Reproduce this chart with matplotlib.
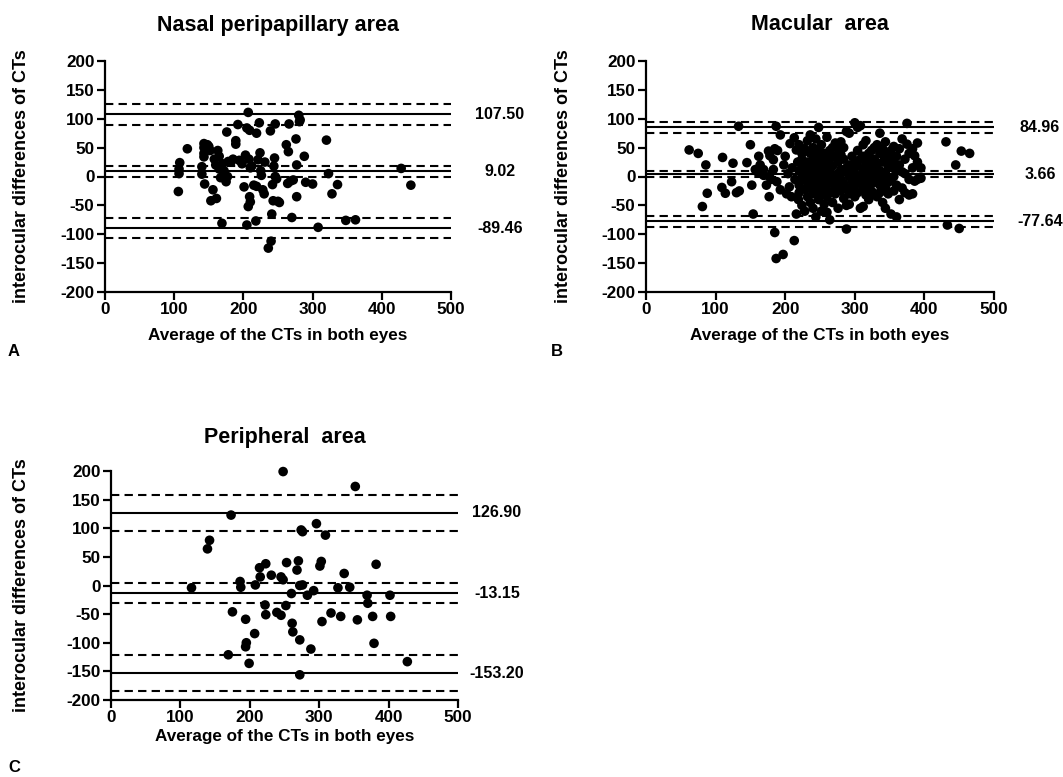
import numpy as np
import matplotlib
matplotlib.use("Agg")
import matplotlib.pyplot as plt

plt.rcParams['font.family'] = ['Liberation Sans', 'DejaVu Sans']
plt.rcParams['font.weight'] = 'bold'
plt.rcParams['axes.unicode_minus'] = False

# ---- data (average CT, interocular difference) ----
nasal_pts = [
    (106, -26), (107, 5), (107, 13), (108, 24), (119, 48),
    (140, 4), (140, 17), (143, 34), (143, 40), (143, 50), (143, 57), (144, -13),
    (148, 55), (150, 52), (152, 45), (153, -42), (156, -23), (161, -38),
    (158, 30), (160, 20), (163, 45), (165, 35), (165, 13),
    (167, -2), (169, -81), (170, 22), (172, 10), (175, -9), (176, 77), (177, 0), (178, 26),
    (182, 25), (185, 30), (189, 62), (189, 56), (192, 90), (194, 28), (198, 22),
    (201, -18), (203, 37), (205, 84), (207, 111), (207, -52), (209, 80), (209, -35),
    (210, -44), (205, -84), (208, 30), (210, 15),
    (212, 18), (215, -15), (218, -77), (219, 75), (219, -17), (221, 29), (223, 93),
    (224, 41), (225, 10), (226, 2), (228, -23), (230, -30), (231, 25),
    (236, -124), (239, 79), (240, -112), (241, -65), (242, -14), (243, -42), (244, 18),
    (245, 32), (246, 91), (248, -4), (250, -43), (252, -45), (246, 0),
    (262, 55), (265, 43), (266, 91), (264, -12), (268, -8), (270, -71), (272, -6),
    (276, 65), (277, -35), (277, 20), (280, 106), (281, 95), (282, 98),
    (288, 35), (290, -10), (300, -13), (308, -88), (320, 63), (323, 5), (328, -30),
    (336, -14), (348, -76), (362, -75), (428, 14), (442, -15),
]

macular_pts = [
    (62, 46), (75, 40), (86, 20), (81, -52), (88, -29), (110, 33), (109, -19), (114, -29),
    (123, -9), (125, 23), (130, -28), (133, 87), (134, -25), (145, 24), (150, 55),
    (152, -15), (154, -65), (157, 12), (160, 8), (162, 35), (164, 20), (169, 12), (169, 2),
    (173, -15), (176, 44), (177, -35), (177, 0), (178, 36), (180, -5), (183, 29), (183, 12),
    (185, 48), (185, -97), (187, 87), (187, -142), (188, -9), (189, 45), (193, 72),
    (193, -23), (197, -135), (198, 20), (200, 35), (202, -30), (204, 5), (206, -18),
    (207, 57), (209, -35), (210, 15), (213, 67), (213, -111), (214, -5), (216, 46),
    (216, -65), (218, 25), (219, -40),
    (220, 10), (220, -15), (220, 55), (220, -28),
    (224, 30), (224, -5), (224, 5), (224, -50), (224, 40),
    (228, 18), (228, -22), (228, 48), (228, 0), (228, -60),
    (232, 62), (232, 8), (232, -35), (232, 25), (232, -10),
    (236, 40), (236, -45), (236, 15), (236, -20), (236, 72), (236, -3),
    (240, 50), (240, -8), (240, 28), (240, -55), (240, 5), (240, -30),
    (244, 20), (244, -25), (244, 65), (244, -12), (244, 35), (244, -70),
    (248, 85), (248, 0), (248, -40), (248, 45), (248, 10), (248, -18),
    (252, 30), (252, -60), (252, -5), (252, 55), (252, 15), (252, -30),
    (256, 8), (256, -22), (256, 40), (256, -48), (256, -8), (256, 22),
    (260, 68), (260, -35), (260, -15), (260, 0), (260, 25), (260, -62),
    (264, 45), (264, -5), (264, 12), (264, -28), (264, -75), (264, 30),
    (268, 50), (268, -45), (268, 18), (268, -10), (268, 3),
    (272, 58), (272, -20), (272, 35), (272, -2), (272, -30),
    (276, 48), (276, 5), (276, -15), (276, 25), (276, -55),
    (280, 60), (280, 12), (280, -25), (280, 38), (280, -5),
    (284, 30), (284, -38), (284, 50), (284, -12), (284, 8),
    (288, 78), (288, -50), (288, 15), (288, -20), (288, -91),
    (292, 0), (292, 20), (292, -30), (292, 75), (292, -48),
    (296, 35), (296, -8), (296, 10), (296, -22),
    (300, 93), (300, 25), (300, -15), (300, 5), (300, -35),
    (304, 85), (304, 45), (304, -5), (304, 18), (304, -28),
    (308, 88), (308, -55), (308, 30), (308, 0), (308, -12),
    (312, 55), (312, 10), (312, -20), (312, 35), (312, -52),
    (316, 62), (316, -8), (316, 22), (316, -32),
    (320, 40), (320, 5), (320, -18), (320, 25), (320, -40),
    (324, 15), (324, -25), (324, 45), (324, -5),
    (328, 30), (328, -10), (328, 50), (328, 8), (328, -30),
    (332, 20), (332, -35), (332, 55), (332, 0),
    (336, 75), (336, 40), (336, -15), (336, 10), (336, -28),
    (340, 25), (340, -45), (340, 48), (340, -5),
    (344, 60), (344, -20), (344, 30), (344, 5), (344, -55),
    (348, 38), (348, -10), (348, 15), (348, -30),
    (352, 45), (352, -65), (352, 20), (352, -5),
    (356, 30), (356, 0), (356, -25), (356, 52),
    (360, 35), (360, -70), (360, 12), (360, -15),
    (364, 48), (364, -40), (364, 20),
    (368, 65), (368, 8), (368, -20),
    (372, 30), (372, -28), (372, 5),
    (375, 92), (375, 56), (378, 40), (378, -32), (378, -5),
    (383, 48), (383, 15), (383, -30), (386, 36), (386, -8),
    (390, 58), (390, 25), (390, -5), (395, 15), (395, -3),
    (431, 60), (445, 20), (453, 44), (465, 40), (433, -84), (450, -90),
]

peripheral_pts = [
    (248, 199), (352, 173), (173, 123), (296, 108), (274, 97), (276, 94), (309, 88),
    (142, 79), (139, 64), (270, 43), (253, 40), (268, 27), (303, 42), (301, 34),
    (223, 38), (214, 31), (215, 15), (231, 18), (245, 15), (248, 10), (336, 21), (382, 37),
    (186, 7), (187, -3), (208, 1), (116, -4), (272, 0), (276, 1), (260, -14),
    (283, -17), (292, -9), (327, -4), (344, -3), (369, -17), (370, -31), (402, -17),
    (175, -46), (194, -59), (222, -34), (223, -51), (239, -47), (245, -52), (252, -35),
    (261, -66), (262, -81), (272, -95), (288, -111), (304, -63), (317, -48), (331, -54),
    (355, -60), (377, -54), (379, -101), (403, -54), (207, -84), (195, -100), (194, -107),
    (169, -121), (199, -136), (272, -156), (427, -133),
]

# agreement lines: value, lower CI, upper CI (mean, upper LoA, lower LoA)
nasal_lines = [(9.02, -0.5, 18.5), (107.50, 90, 125), (-89.46, -107, -72)]
macular_lines = [(3.66, -1.4, 8.7), (84.96, 76, 94.5), (-77.64, -87, -68)]
peripheral_lines = [(-13.15, -31, 4.5), (126.90, 96, 158), (-153.20, -184, -122)]

nasal_labels = ['9.02', '107.50', '-89.46']
macular_labels = ['3.66', '84.96', '-77.64']
peripheral_labels = ['-13.15', '126.90', '-153.20']

W, H = 1063, 777
fig = plt.figure(figsize=(W / 100, H / 100), dpi=100)


def panel(box, pts, lines, labels, title, label_px, ylab_px, xlab_px, title_px):
    l, t, r, b = box  # pixel box of the axes
    ax = fig.add_axes([l / W, 1 - b / H, (r - l) / W, (b - t) / H])
    x, y = np.array(pts).T
    for val, lo, hi in lines:
        ax.axhline(val, color='black', lw=1.5, zorder=1)
        for v in (lo, hi):
            ax.axhline(v, color='black', lw=1.5, ls=(0, (4, 2.5)), zorder=1)
    ax.scatter(x, y, s=48, color='black', edgecolor='none', zorder=3, clip_on=False)
    for (val, lo, hi), lab in zip(lines, labels):
        ax.text(1 + label_px / (r - l), val, lab, transform=ax.get_yaxis_transform(),
                ha='center', va='center', fontsize=11.5, fontweight='bold')
    ax.set_xlim(0, 500)
    ax.set_ylim(-200, 200)
    ax.set_xticks([0, 100, 200, 300, 400, 500])
    ax.set_yticks(np.arange(-200, 201, 50))
    for s in ('top', 'right'):
        ax.spines[s].set_visible(False)
    for s in ('left', 'bottom'):
        ax.spines[s].set_linewidth(1.6)
    ax.tick_params(direction='out', length=6, width=1.6, labelsize=12.3, pad=1.5)
    for lb in ax.get_xticklabels() + ax.get_yticklabels():
        lb.set_fontweight('bold')
    ax.set_ylabel('interocular differences of CTs', fontsize=13, fontweight='bold')
    ax.yaxis.set_label_coords(-ylab_px / (r - l), 0.5)
    ax.set_xlabel('Average of the CTs in both eyes', fontsize=12.3, fontweight='bold')
    ax.xaxis.set_label_coords(0.5, -xlab_px / (b - t))
    ax.xaxis.label.set_va('center')
    ax.yaxis.label.set_va('center')
    ax.text(0.5, 1 + title_px / (b - t), title, transform=ax.transAxes,
            ha='center', va='center', fontsize=15.5, fontweight='bold')
    return ax


panel((105, 61, 451, 292), nasal_pts, nasal_lines, nasal_labels,
      'Nasal peripapillary area', 49, 83, 43, 36)
panel((646, 61, 994, 292), macular_pts, macular_lines, macular_labels,
      'Macular  area', 46, 83, 43, 36)
panel((111, 471, 458, 700), peripheral_pts, peripheral_lines, peripheral_labels,
      'Peripheral  area', 39, 89, 37, 34)

for lab, px, py in [('A', 14, 352), ('B', 557, 352), ('C', 14, 768)]:
    fig.text(px / W, 1 - py / H, lab, ha='center', va='center', fontsize=12, fontweight='bold')

fig.savefig('out.png', dpi=100)
